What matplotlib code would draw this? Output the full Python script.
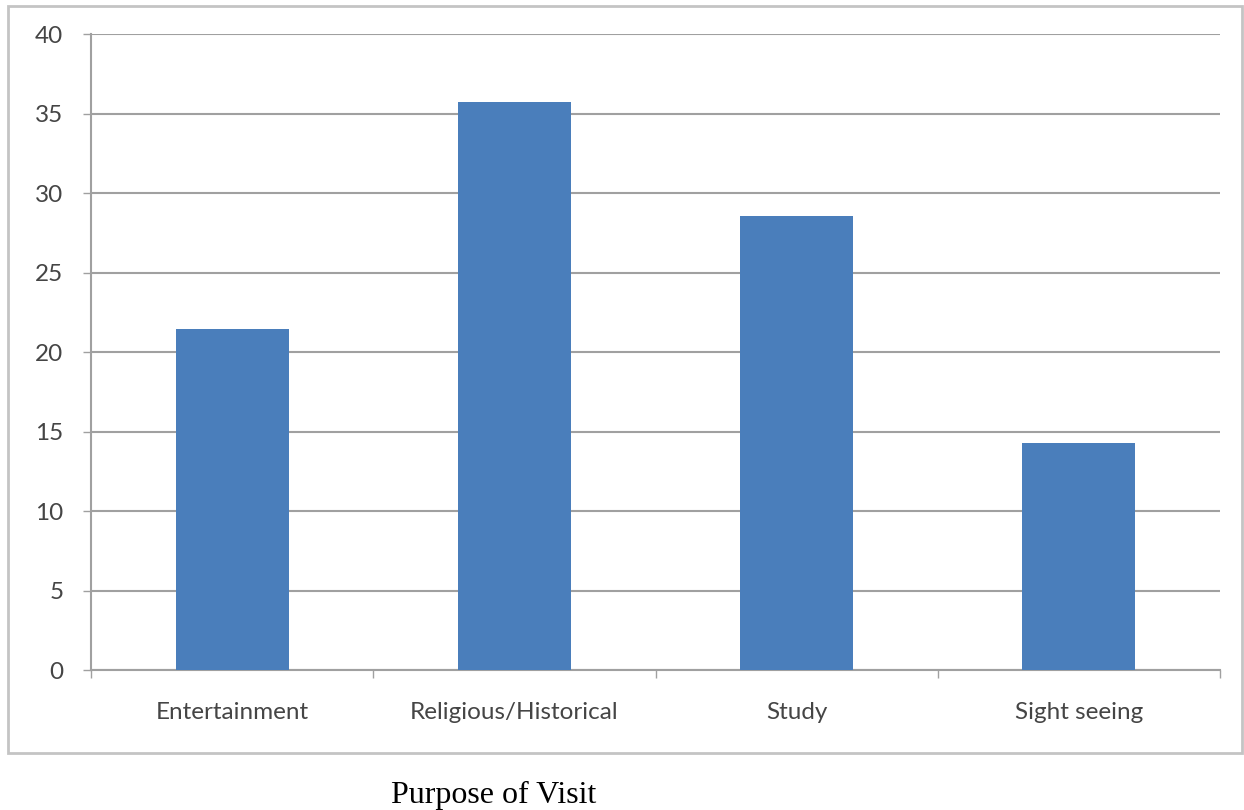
import matplotlib.pyplot as plt
import numpy as np
from matplotlib.patches import Rectangle

# purpose of visit, share of respondents (%)
purposes = ["Entertainment", "Religious/Historical", "Study", "Sight seeing"]
shares = [21.43, 35.71, 28.57, 14.29]
yticks = [0, 5, 10, 15, 20, 25, 30, 35, 40]

grey = "#a0a0a0"
blue = "#4a7ebb"

fig = plt.figure(figsize=(12.44, 8.10), dpi=100)
ax = fig.add_axes([0.0732, 0.1728, 0.9075, 0.785])

# chart frame
fig.patches.append(Rectangle((0.0064, 0.0704), 0.992, 0.922, transform=fig.transFigure,
                             fill=False, edgecolor="#c4c4c4", linewidth=2, zorder=0))

x = np.arange(len(purposes))
ax.bar(x, shares, width=0.4, color=blue, zorder=3)

ax.set_xlim(-0.5, len(purposes) - 0.5)
ax.set_ylim(0, 40)
ax.set_yticks(yticks)
ax.yaxis.grid(True, color=grey, linewidth=1.5, zorder=0)

# boundary ticks on the category axis, labels centred between them
ax.set_xticks(np.arange(len(purposes) + 1) - 0.5)
ax.set_xticklabels([])
ax.set_xticks(x, minor=True)
ax.set_xticklabels(purposes, minor=True)
ax.tick_params(axis="x", which="major", length=6, width=1, color=grey)
ax.tick_params(axis="x", which="minor", length=0, pad=23)
ax.tick_params(axis="y", length=6, width=1, color=grey, pad=14)

for lab in ax.get_xticklabels(minor=True) + ax.get_yticklabels():
    lab.set_fontfamily("Lato")
    lab.set_fontsize(17.5)
    lab.set_color("#454545")

for s in ["top", "right"]:
    ax.spines[s].set_visible(False)
for s in ["left", "bottom"]:
    ax.spines[s].set_color(grey)
    ax.spines[s].set_linewidth(1.5)

fig.text(0.397, 0.009, "Purpose of Visit", family="Liberation Serif", fontsize=23,
         ha="center", va="baseline", color="black")

fig.savefig("out.png", dpi=100)
